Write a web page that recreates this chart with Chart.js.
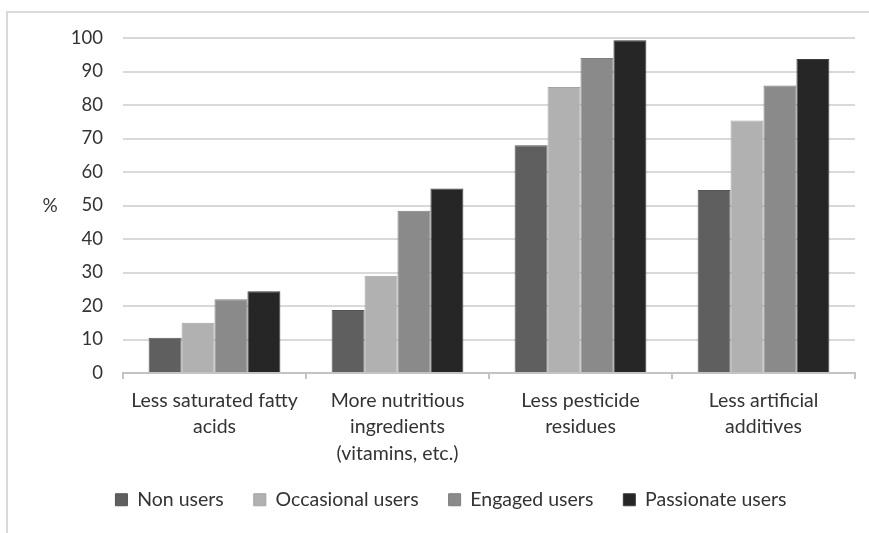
<!DOCTYPE html>
<html>
<head>
<meta charset="utf-8">
<script src="https://cdn.jsdelivr.net/npm/chart.js@4.4.1/dist/chart.umd.min.js"></script>
<style>
  html, body { margin: 0; padding: 0; background: #ffffff; overflow: hidden; }
  #wrap { position: relative; width: 869px; height: 533px; }
  #frame {
    position: absolute; left: 6px; top: 11px; width: 900px; height: 600px;
    border-left: 2px solid #d9d9d9; border-top: 2px solid #d9d9d9;
  }
  canvas { position: absolute; left: 0; top: 0; }
</style>
</head>
<body>
<div id="wrap">
  <div id="frame"></div>
  <canvas id="chart" width="869" height="533"></canvas>
</div>
<script>
// Benefits perceived, by user group (% of respondents)
const categories = [
  ['Less saturated fatty', 'acids'],
  ['More nutritious', 'ingredients', '(vitamins, etc.)'],
  ['Less pesticide', 'residues'],
  ['Less artificial', 'additives']
];
const seriesNames = ['Non users', 'Occasional users', 'Engaged users', 'Passionate users'];
const nonUsers        = [10.5, 18.8, 68.0, 54.6];
const occasionalUsers = [15.0, 29.0, 85.4, 75.4];
const engagedUsers    = [22.0, 48.4, 94.0, 85.8];
const passionateUsers = [24.4, 55.1, 99.3, 93.7];
const yTicks = [0, 10, 20, 30, 40, 50, 60, 70, 80, 90, 100];
const yAxisLabel = '%';

const fills   = ['#5f5f5f', '#b1b1b1', '#8a8a8a', '#262626'];
const borders = ['#555555', '#a4a4a4', '#7e7e7e', '#3c3c3c'];
const values  = [nonUsers, occasionalUsers, engagedUsers, passionateUsers];

const FONT = 'Lato, "DejaVu Sans", sans-serif';
const TEXT = '#333333';

// Unrotated "%" label to the left of the value axis
const yUnitLabel = {
  id: 'yUnitLabel',
  afterDraw(chart) {
    const { ctx, scales: { y } } = chart;
    ctx.save();
    ctx.font = '19px ' + FONT;
    ctx.fillStyle = TEXT;
    ctx.textAlign = 'center';
    ctx.textBaseline = 'middle';
    ctx.fillText(yAxisLabel, 50, y.getPixelForValue(50));
    ctx.restore();
  }
};

// Pull the legend row up a little, closer to the category labels
const legendLift = {
  id: 'legendLift',
  afterLayout(chart) {
    const lg = chart.legend;
    if (lg) { lg.top -= 8; lg.bottom -= 8; }
  }
};

new Chart(document.getElementById('chart'), {
  type: 'bar',
  data: {
    labels: categories,
    datasets: seriesNames.map((name, i) => ({
      label: name,
      data: values[i],
      backgroundColor: fills[i],
      borderColor: borders[i],
      borderWidth: 1,
      categoryPercentage: 0.72,
      barPercentage: 1.0
    }))
  },
  options: {
    responsive: false,
    animation: false,
    devicePixelRatio: 1,
    layout: { padding: { left: 47, right: 14, top: 38, bottom: 5.5 } },
    plugins: {
      tooltip: { enabled: false },
      legend: {
        position: 'bottom',
        labels: {
          font: { family: FONT, size: 19.5 },
          color: TEXT,
          boxWidth: 12,
          boxHeight: 12,
          padding: 30
        }
      }
    },
    scales: {
      x: {
        afterFit(scale) { scale.height = 95; },
        grid: {
          offset: true,
          drawOnChartArea: false,
          drawTicks: true,
          tickLength: 6,
          color: '#c4c4c4',
          lineWidth: 2
        },
        border: { display: true, color: '#c4c4c4', width: 2 },
        ticks: {
          font: { family: FONT, size: 19.5, lineHeight: 1.36 },
          color: TEXT,
          padding: 8,
          maxRotation: 0,
          autoSkip: false
        }
      },
      y: {
        min: 0,
        max: 100,
        afterFit(scale) { scale.width = 76; },
        afterBuildTicks(scale) { scale.ticks = yTicks.map(v => ({ value: v })); },
        grid: { color: '#d9d9d9', lineWidth: 2, drawTicks: false },
        border: { display: false },
        ticks: {
          font: { family: FONT, size: 18.5 },
          color: TEXT,
          padding: 20
        }
      }
    }
  },
  plugins: [yUnitLabel, legendLift]
});
</script>
</body>
</html>
